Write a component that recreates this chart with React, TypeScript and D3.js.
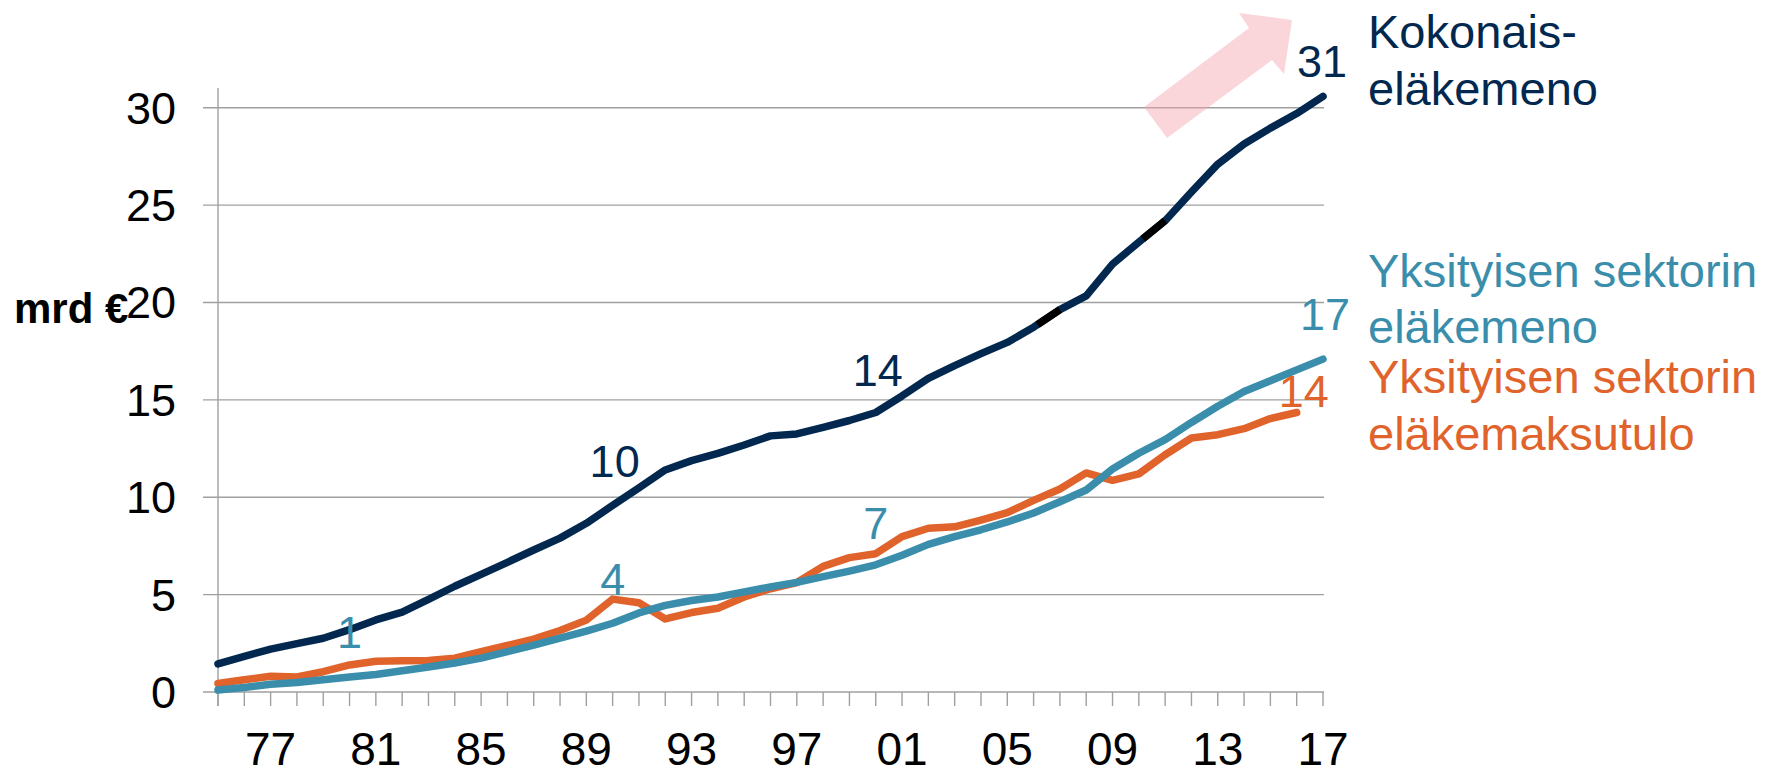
import React from 'react';
import * as d3 from 'd3';

// vuodet 1975-2017
const years = d3.range(1975, 2018);

// mrd €
const kokonais = [
  1.44, 1.83, 2.2, 2.48, 2.76, 3.2, 3.7, 4.1, 4.76, 5.43,
  6.04, 6.66, 7.29, 7.9, 8.66, 9.58, 10.48, 11.4, 11.88, 12.25,
  12.68, 13.15, 13.25, 13.59, 13.94, 14.35, 15.2, 16.1, 16.76, 17.37,
  17.95, 18.73, 19.63, 20.34, 21.97, 23.1, 24.2, 25.67, 27.1, 28.14,
  28.95, 29.7, 30.58,
];
const yksMeno = [
  0.1, 0.23, 0.4, 0.49, 0.63, 0.77, 0.9, 1.09, 1.28, 1.49,
  1.74, 2.07, 2.41, 2.76, 3.13, 3.53, 4.06, 4.45, 4.7, 4.88,
  5.14, 5.4, 5.63, 5.92, 6.21, 6.53, 7.02, 7.58, 7.98, 8.33,
  8.73, 9.19, 9.77, 10.37, 11.45, 12.26, 12.96, 13.84, 14.67, 15.43,
  15.98, 16.54, 17.09,
];
// 1975-2016
const yksMaksu = [
  0.44, 0.63, 0.81, 0.77, 1.04, 1.39, 1.58, 1.6, 1.62, 1.74,
  2.07, 2.39, 2.72, 3.16, 3.69, 4.77, 4.58, 3.75, 4.08, 4.3,
  4.88, 5.3, 5.62, 6.45, 6.9, 7.1, 7.98, 8.41, 8.48, 8.83,
  9.21, 9.84, 10.42, 11.25, 10.87, 11.2, 12.18, 13.04, 13.21, 13.52,
  14.04, 14.35,
];

const yTicks = [0, 5, 10, 15, 20, 25, 30];
const xLabelYears = [1977, 1981, 1985, 1989, 1993, 1997, 2001, 2005, 2009, 2013, 2017];

// value labels: series, year, text
const valueLabels = [
  { s: 'kok', year: 1990, text: '10' },
  { s: 'kok', year: 2000, text: '14' },
  { s: 'kok', year: 2017, text: '31' },
  { s: 'meno', year: 1980, text: '1' },
  { s: 'meno', year: 1990, text: '4' },
  { s: 'meno', year: 2000, text: '7' },
  { s: 'meno', year: 2017, text: '17' },
  { s: 'maksu', year: 2016, text: '14' },
];

// odd black bits on the total line (year ranges)
const blackBits = [[2006.15, 2007], [2010.15, 2011]];

const NAVY = '#02284f';
const TEAL = '#3a8eab';
const ORANGE = '#e0632b';
const GRID = '#a0a0a0';
const FONT = '"Liberation Sans", Arial, sans-serif';

const App = () => {
  const x = d3.scaleLinear().domain([1975, 2017]).range([218, 1323]);
  const y = d3.scaleLinear().domain([0, 30]).range([692, 107.7]);

  const series = {
    kok: { data: kokonais, color: NAVY },
    meno: { data: yksMeno, color: TEAL },
    maksu: { data: yksMaksu, color: ORANGE },
  };

  const line = d3.line<number>()
    .x((d, i) => x(years[i]))
    .y((d) => y(d));

  const valueAt = (data: number[], yr: number) =>
    d3.scaleLinear().domain(years.slice(0, data.length)).range(data)(yr);

  const labelOffset = {
    '1990kok': [2, -28], '2000kok': [2, -27], '2017kok': [-1, -19],
    '1980meno': [0, -29], '1990meno': [0, -28], '2000meno': [0, -26],
    '2017meno': [2, -29], '2016maksu': [7, -6],
  };

  const arrow = [
    [1144, 107], [1167, 138], [1272, 60], [1284, 74],
    [1292, 20], [1239, 13], [1249, 28],
  ];

  return (
    <svg width={1772} height={770} style={{ position: 'absolute', left: 0, top: 0 }}
      fontFamily={FONT}>
      <rect width={1772} height={770} fill="white" />

      {/* gridlines */}
      {yTicks.map((t) => (
        <line key={t} x1={203} x2={1324} y1={y(t)} y2={y(t)} stroke={GRID} strokeWidth={1.4} />
      ))}
      {/* axes */}
      <line x1={x(1975)} x2={x(1975)} y1={88} y2={706} stroke={GRID} strokeWidth={1.4} />
      {years.map((yr) => (
        <line key={yr} x1={x(yr)} x2={x(yr)} y1={y(0)} y2={y(0) + 14} stroke={GRID} strokeWidth={1.4} />
      ))}

      {yTicks.map((t) => (
        <text key={t} x={176} y={y(t) + 16} fontSize={45} textAnchor="end" fill="#000">{t}</text>
      ))}
      {xLabelYears.map((yr) => (
        <text key={yr} x={x(yr)} y={765} fontSize={46} textAnchor="middle" fill="#000">
          {String(yr).slice(2)}
        </text>
      ))}

      <text x={14} y={323} fontSize={42} fontWeight="bold" fill="#000">mrd €</text>

      {/* arrow */}
      <polygon points={arrow.map((p) => p.join(',')).join(' ')} fill="#f4a3b0" fillOpacity={0.45} />

      {/* lines */}
      {(['maksu', 'meno', 'kok'] as const).map((k) => (
        <path key={k} d={line(series[k].data) ?? ''} fill="none" stroke={series[k].color}
          strokeWidth={7.5} strokeLinejoin="round" strokeLinecap="round" />
      ))}
      {blackBits.map(([a, b]) => (
        <line key={a} x1={x(a)} y1={y(valueAt(kokonais, a))} x2={x(b)} y2={y(valueAt(kokonais, b))}
          stroke="#000" strokeWidth={7.5} />
      ))}

      {/* value labels */}
      {valueLabels.map((l) => {
        const s = series[l.s as keyof typeof series];
        const off = labelOffset[(l.year + l.s) as keyof typeof labelOffset];
        return (
          <text key={l.year + l.s} x={x(l.year) + off[0]} y={y(valueAt(s.data, l.year)) + off[1]}
            fontSize={45} textAnchor="middle" fill={s.color}>{l.text}</text>
        );
      })}

      {/* legend */}
      <g fontSize={47}>
        <text x={1368} y={48} fill={NAVY}>Kokonais-</text>
        <text x={1368} y={105} fill={NAVY}>eläkemeno</text>
        <text x={1368} y={287} fill={TEAL}>Yksityisen sektorin</text>
        <text x={1368} y={343} fill={TEAL}>eläkemeno</text>
        <text x={1368} y={393} fill={ORANGE}>Yksityisen sektorin</text>
        <text x={1368} y={450} fill={ORANGE}>eläkemaksutulo</text>
      </g>
    </svg>
  );
};

export default App;
